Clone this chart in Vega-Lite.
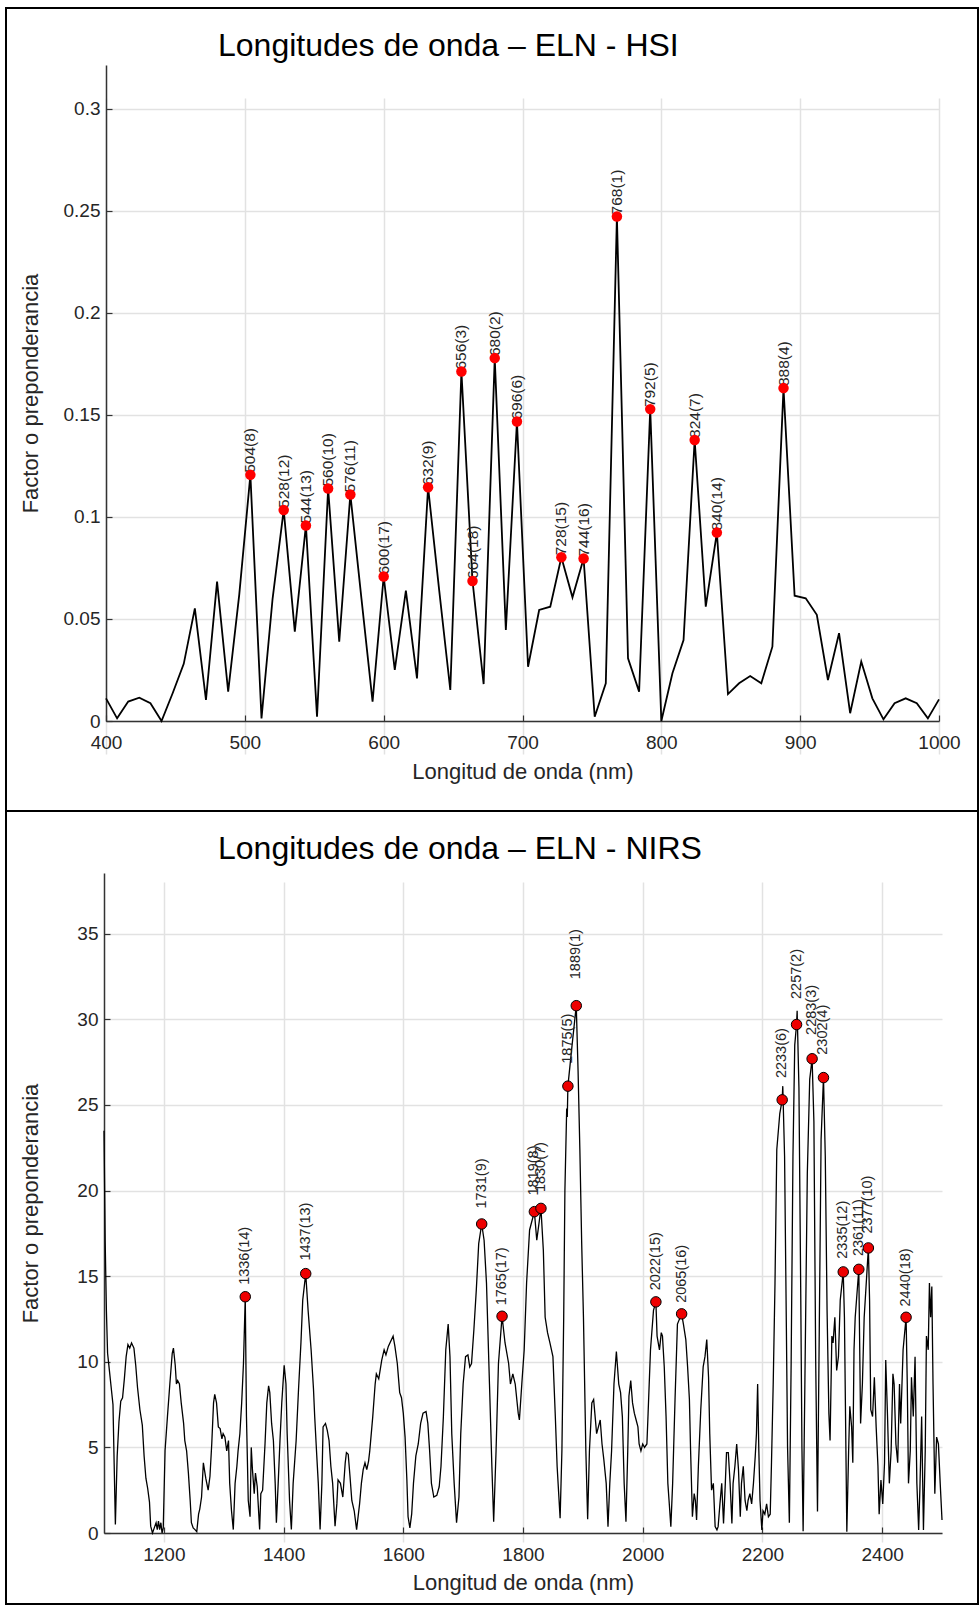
{
  "$schema": "https://vega.github.io/schema/vega-lite/v6.json",
  "padding": {"left": 5, "top": 7, "right": 0, "bottom": 0},
  "bounds": "flush",
  "spacing": 0,
  "config": {
    "font": "Liberation Sans",
    "view": {"stroke": "black", "strokeWidth": 2},
    "axis": {
      "labelFont": "Liberation Sans", "labelFontSize": 19, "labelColor": "#262626",
      "titleFont": "Liberation Sans", "titleFontSize": 22, "titleColor": "#262626", "titleFontWeight": "normal",
      "domainColor": "#333333", "domainWidth": 1.5, "tickColor": "#333333", "tickWidth": 1.2, "tickSize": -6,
      "gridColor": "#e2e2e2", "gridWidth": 1.5, "gridOpacity": 1, "labelFlush": false
    }
  },
  "datasets": {
    "hsi": [
      {"nm":400,"v":0.0111},{"nm":408,"v":0.0013},{"nm":416,"v":0.0095},{"nm":424,"v":0.0114},{"nm":432,"v":0.0087},
      {"nm":440,"v":0.0},{"nm":448,"v":0.0136},{"nm":456,"v":0.028},{"nm":464,"v":0.0552},{"nm":472,"v":0.0103},
      {"nm":480,"v":0.0683},{"nm":488,"v":0.0144},{"nm":496,"v":0.062},{"nm":504,"v":0.1206},{"nm":512,"v":0.0013},
      {"nm":520,"v":0.06},{"nm":528,"v":0.1034},{"nm":536,"v":0.0438},{"nm":544,"v":0.0958},{"nm":552,"v":0.0021},
      {"nm":560,"v":0.1139},{"nm":568,"v":0.0389},{"nm":576,"v":0.111},{"nm":584,"v":0.06},{"nm":592,"v":0.0095},
      {"nm":600,"v":0.0708},{"nm":608,"v":0.025},{"nm":616,"v":0.0639},{"nm":624,"v":0.0209},{"nm":632,"v":0.1145},
      {"nm":640,"v":0.064},{"nm":648,"v":0.0152},{"nm":656,"v":0.1712},{"nm":664,"v":0.0686},{"nm":672,"v":0.0181},
      {"nm":680,"v":0.1778},{"nm":688,"v":0.0446},{"nm":696,"v":0.1467},{"nm":704,"v":0.0266},{"nm":712,"v":0.0544},
      {"nm":720,"v":0.056},{"nm":728,"v":0.0802},{"nm":736,"v":0.0606},{"nm":744,"v":0.0796},{"nm":752,"v":0.0021},
      {"nm":760,"v":0.0185},{"nm":768,"v":0.2472},{"nm":776,"v":0.0307},{"nm":784,"v":0.0144},{"nm":792,"v":0.1528},
      {"nm":800,"v":0.0},{"nm":808,"v":0.0234},{"nm":816,"v":0.0397},{"nm":824,"v":0.1377},{"nm":832,"v":0.056},
      {"nm":840,"v":0.0923},{"nm":848,"v":0.0132},{"nm":856,"v":0.0185},{"nm":864,"v":0.022},{"nm":872,"v":0.0185},
      {"nm":880,"v":0.0364},{"nm":888,"v":0.1631},{"nm":896,"v":0.0614},{"nm":904,"v":0.0601},{"nm":912,"v":0.052},
      {"nm":920,"v":0.0201},{"nm":928,"v":0.043},{"nm":936,"v":0.0038},{"nm":944,"v":0.0291},{"nm":952,"v":0.0111},
      {"nm":960,"v":0.0008},{"nm":968,"v":0.0087},{"nm":976,"v":0.0111},{"nm":984,"v":0.0087},{"nm":992,"v":0.0013},
      {"nm":1000,"v":0.0106}
    ],
    "hsiPeaks": [
      {"nm":504,"v":0.1206,"label":"504(8)"},{"nm":528,"v":0.1034,"label":"528(12)"},{"nm":544,"v":0.0958,"label":"544(13)"},
      {"nm":560,"v":0.1139,"label":"560(10)"},{"nm":576,"v":0.111,"label":"576(11)"},{"nm":600,"v":0.0708,"label":"600(17)"},
      {"nm":632,"v":0.1145,"label":"632(9)"},{"nm":656,"v":0.1712,"label":"656(3)"},{"nm":664,"v":0.0686,"label":"664(18)"},
      {"nm":680,"v":0.1778,"label":"680(2)"},{"nm":696,"v":0.1467,"label":"696(6)"},{"nm":728,"v":0.0802,"label":"728(15)"},
      {"nm":744,"v":0.0796,"label":"744(16)"},{"nm":768,"v":0.2472,"label":"768(1)"},{"nm":792,"v":0.1528,"label":"792(5)"},
      {"nm":824,"v":0.1377,"label":"824(7)"},{"nm":840,"v":0.0923,"label":"840(14)"},{"nm":888,"v":0.1631,"label":"888(4)"}
    ],
    "nirs": [
      {"nm":1100,"v":23.5},{"nm":1102,"v":17},{"nm":1104,"v":13},{"nm":1106,"v":10.5},{"nm":1109,"v":9.5},{"nm":1112,"v":8.5},
      {"nm":1115,"v":7.5},{"nm":1117,"v":4},{"nm":1119,"v":0.5},{"nm":1122,"v":4.5},{"nm":1125,"v":6.5},{"nm":1128,"v":7.7},
      {"nm":1131,"v":7.9},{"nm":1134,"v":9.0},{"nm":1137,"v":10.3},{"nm":1140,"v":11.0},{"nm":1143,"v":10.8},{"nm":1146,"v":11.1},
      {"nm":1150,"v":10.8},{"nm":1153,"v":9.8},{"nm":1156,"v":8.5},{"nm":1160,"v":7.2},{"nm":1164,"v":6.3},{"nm":1167,"v":4.5},
      {"nm":1170,"v":3.2},{"nm":1173,"v":2.6},{"nm":1176,"v":1.8},{"nm":1178,"v":0.4},{"nm":1181,"v":0.0},{"nm":1184,"v":0.3},
      {"nm":1187,"v":0.6},{"nm":1189,"v":0.2},{"nm":1191,"v":0.7},{"nm":1193,"v":0.2},{"nm":1195,"v":0.6},{"nm":1197,"v":0.0},
      {"nm":1199,"v":0.3},{"nm":1202,"v":4.8},{"nm":1206,"v":6.8},{"nm":1210,"v":8.7},{"nm":1214,"v":10.5},{"nm":1216,"v":10.8},
      {"nm":1219,"v":9.8},{"nm":1221,"v":8.7},{"nm":1223,"v":8.9},{"nm":1226,"v":8.7},{"nm":1229,"v":7.6},{"nm":1233,"v":6.4},
      {"nm":1235,"v":5.4},{"nm":1238,"v":4.8},{"nm":1241,"v":3.5},{"nm":1244,"v":1.9},{"nm":1246,"v":0.6},{"nm":1249,"v":0.3},
      {"nm":1252,"v":0.2},{"nm":1255,"v":0.08},{"nm":1258,"v":1.1},{"nm":1260,"v":1.4},{"nm":1263,"v":2.1},{"nm":1266,"v":4.1},
      {"nm":1270,"v":3.2},{"nm":1274,"v":2.5},{"nm":1277,"v":3.3},{"nm":1280,"v":5.2},{"nm":1283,"v":7.6},{"nm":1285,"v":8.1},
      {"nm":1288,"v":7.6},{"nm":1291,"v":6.2},{"nm":1294,"v":6.1},{"nm":1297,"v":5.5},{"nm":1299,"v":5.8},{"nm":1302,"v":5.6},
      {"nm":1305,"v":4.8},{"nm":1308,"v":5.4},{"nm":1310,"v":2.9},{"nm":1313,"v":1.3},{"nm":1316,"v":0.2},{"nm":1319,"v":2.9},
      {"nm":1322,"v":3.9},{"nm":1324,"v":4.8},{"nm":1327,"v":5.8},{"nm":1330,"v":7.6},{"nm":1333,"v":9.9},{"nm":1336,"v":13.8},
      {"nm":1338,"v":6.8},{"nm":1341,"v":1.9},{"nm":1344,"v":0.95},{"nm":1346,"v":5.0},{"nm":1348,"v":3.7},{"nm":1351,"v":2.3},
      {"nm":1353,"v":3.5},{"nm":1356,"v":2.7},{"nm":1360,"v":0.2},{"nm":1362,"v":2.3},{"nm":1365,"v":2.5},{"nm":1369,"v":5.2},
      {"nm":1372,"v":7.6},{"nm":1375,"v":8.6},{"nm":1377,"v":8.2},{"nm":1380,"v":6.4},{"nm":1383,"v":5.4},{"nm":1386,"v":2.9},
      {"nm":1388,"v":0.6},{"nm":1391,"v":2.9},{"nm":1394,"v":5.4},{"nm":1397,"v":7.6},{"nm":1401,"v":9.8},{"nm":1404,"v":8.7},
      {"nm":1406,"v":5.8},{"nm":1410,"v":1.9},{"nm":1413,"v":0.2},{"nm":1416,"v":2.9},{"nm":1421,"v":5.4},{"nm":1425,"v":8.4},
      {"nm":1429,"v":11.1},{"nm":1432,"v":13.6},{"nm":1437,"v":15.15},{"nm":1441,"v":13.0},{"nm":1446,"v":10.7},{"nm":1450,"v":8.4},
      {"nm":1452,"v":6.8},{"nm":1455,"v":4.8},{"nm":1458,"v":2.9},{"nm":1461,"v":0.2},{"nm":1464,"v":2.9},{"nm":1466,"v":6.2},
      {"nm":1470,"v":6.4},{"nm":1473,"v":6.0},{"nm":1476,"v":5.4},{"nm":1479,"v":3.9},{"nm":1482,"v":2.9},{"nm":1486,"v":0.4},
      {"nm":1489,"v":1.7},{"nm":1491,"v":3.1},{"nm":1495,"v":2.9},{"nm":1499,"v":2.1},{"nm":1503,"v":4.1},{"nm":1505,"v":4.7},
      {"nm":1508,"v":4.6},{"nm":1511,"v":3.3},{"nm":1514,"v":1.9},{"nm":1518,"v":1.3},{"nm":1522,"v":0.2},{"nm":1527,"v":1.7},
      {"nm":1530,"v":2.9},{"nm":1533,"v":3.7},{"nm":1536,"v":4.1},{"nm":1539,"v":3.7},{"nm":1542,"v":4.2},{"nm":1544,"v":4.8},
      {"nm":1549,"v":6.8},{"nm":1553,"v":8.7},{"nm":1555,"v":9.3},{"nm":1559,"v":9.0},{"nm":1564,"v":10.1},{"nm":1568,"v":10.7},
      {"nm":1571,"v":10.4},{"nm":1575,"v":10.9},{"nm":1579,"v":11.2},{"nm":1583,"v":11.5},{"nm":1586,"v":10.9},{"nm":1590,"v":9.9},
      {"nm":1594,"v":8.2},{"nm":1597,"v":7.9},{"nm":1600,"v":7.0},{"nm":1603,"v":5.6},{"nm":1606,"v":3.1},{"nm":1608,"v":0.95},
      {"nm":1611,"v":0.3},{"nm":1614,"v":1.1},{"nm":1617,"v":2.9},{"nm":1621,"v":4.5},{"nm":1625,"v":5.2},{"nm":1629,"v":6.4},
      {"nm":1633,"v":7.0},{"nm":1638,"v":7.1},{"nm":1641,"v":6.4},{"nm":1644,"v":4.8},{"nm":1647,"v":2.9},{"nm":1651,"v":2.1},
      {"nm":1656,"v":2.2},{"nm":1660,"v":2.7},{"nm":1663,"v":3.9},{"nm":1667,"v":6.8},{"nm":1671,"v":10.7},{"nm":1675,"v":12.2},
      {"nm":1678,"v":10.3},{"nm":1681,"v":5.8},{"nm":1685,"v":2.9},{"nm":1689,"v":0.6},{"nm":1693,"v":2.1},{"nm":1696,"v":5.8},
      {"nm":1700,"v":8.7},{"nm":1704,"v":10.3},{"nm":1708,"v":10.4},{"nm":1711,"v":9.7},{"nm":1714,"v":9.9},{"nm":1718,"v":11.9},
      {"nm":1722,"v":14.2},{"nm":1726,"v":16.9},{"nm":1731,"v":18.05},{"nm":1735,"v":17.1},{"nm":1739,"v":14.6},{"nm":1744,"v":8.7},
      {"nm":1748,"v":3.9},{"nm":1751,"v":0.66},{"nm":1755,"v":4.8},{"nm":1759,"v":9.9},{"nm":1765,"v":12.66},{"nm":1770,"v":11.1},
      {"nm":1776,"v":9.9},{"nm":1779,"v":8.7},{"nm":1783,"v":9.3},{"nm":1787,"v":8.7},{"nm":1792,"v":7.0},{"nm":1794,"v":6.6},
      {"nm":1798,"v":8.7},{"nm":1802,"v":10.7},{"nm":1806,"v":14.6},{"nm":1811,"v":17.7},{"nm":1819,"v":18.77},{"nm":1823,"v":17.1},
      {"nm":1830,"v":18.96},{"nm":1834,"v":16.5},{"nm":1837,"v":12.6},{"nm":1841,"v":11.7},{"nm":1845,"v":11.1},{"nm":1850,"v":10.3},
      {"nm":1854,"v":6.8},{"nm":1857,"v":3.9},{"nm":1862,"v":0.86},{"nm":1865,"v":4.8},{"nm":1868,"v":12.6},{"nm":1870,"v":20},
      {"nm":1873,"v":24.8},{"nm":1874,"v":24.3},{"nm":1875,"v":26.1},{"nm":1882,"v":28.5},{"nm":1889,"v":30.8},{"nm":1892,"v":27},
      {"nm":1895,"v":22.4},{"nm":1898,"v":17},{"nm":1901,"v":12.6},{"nm":1905,"v":4.8},{"nm":1908,"v":0.8},{"nm":1911,"v":4.8},
      {"nm":1915,"v":7.6},{"nm":1918,"v":7.8},{"nm":1920,"v":7.0},{"nm":1923,"v":5.8},{"nm":1926,"v":6.2},{"nm":1929,"v":6.6},
      {"nm":1932,"v":5.2},{"nm":1935,"v":4.3},{"nm":1939,"v":2.9},{"nm":1942,"v":0.37},{"nm":1945,"v":2.9},{"nm":1948,"v":4.8},
      {"nm":1952,"v":8.7},{"nm":1956,"v":10.6},{"nm":1960,"v":8.7},{"nm":1963,"v":8.2},{"nm":1966,"v":6.8},{"nm":1969,"v":2.9},
      {"nm":1972,"v":0.66},{"nm":1975,"v":4.8},{"nm":1977,"v":8.0},{"nm":1980,"v":8.9},{"nm":1983,"v":7.6},{"nm":1986,"v":7.0},
      {"nm":1989,"v":6.6},{"nm":1992,"v":6.2},{"nm":1994,"v":5.2},{"nm":1997,"v":4.8},{"nm":2000,"v":5.2},{"nm":2003,"v":5.0},
      {"nm":2007,"v":5.2},{"nm":2009,"v":7.0},{"nm":2013,"v":10.7},{"nm":2018,"v":13.0},{"nm":2022,"v":13.5},{"nm":2024,"v":11.5},
      {"nm":2028,"v":10.7},{"nm":2031,"v":11.7},{"nm":2033,"v":11.5},{"nm":2036,"v":9.7},{"nm":2039,"v":6.8},{"nm":2042,"v":2.9},
      {"nm":2044,"v":1.9},{"nm":2047,"v":0.37},{"nm":2050,"v":2.9},{"nm":2054,"v":7.8},{"nm":2058,"v":12.2},{"nm":2065,"v":12.8},
      {"nm":2068,"v":12.2},{"nm":2072,"v":11.3},{"nm":2075,"v":9.7},{"nm":2078,"v":7.8},{"nm":2080,"v":4.8},{"nm":2083,"v":0.95},
      {"nm":2086,"v":2.3},{"nm":2088,"v":1.9},{"nm":2090,"v":0.76},{"nm":2093,"v":3.9},{"nm":2097,"v":7.2},{"nm":2101,"v":9.7},
      {"nm":2104,"v":10.3},{"nm":2107,"v":11.3},{"nm":2110,"v":9.1},{"nm":2112,"v":5.8},{"nm":2115,"v":2.5},{"nm":2118,"v":2.9},
      {"nm":2121,"v":0.37},{"nm":2124,"v":0.18},{"nm":2126,"v":0.37},{"nm":2129,"v":1.7},{"nm":2132,"v":2.9},{"nm":2135,"v":0.56},
      {"nm":2138,"v":2.9},{"nm":2140,"v":4.7},{"nm":2143,"v":4.7},{"nm":2146,"v":2.9},{"nm":2149,"v":0.56},{"nm":2151,"v":2.9},
      {"nm":2154,"v":3.9},{"nm":2157,"v":5.2},{"nm":2160,"v":3.7},{"nm":2163,"v":0.95},{"nm":2165,"v":2.9},{"nm":2168,"v":3.9},
      {"nm":2171,"v":1.9},{"nm":2174,"v":1.3},{"nm":2176,"v":1.9},{"nm":2179,"v":2.3},{"nm":2182,"v":1.7},{"nm":2185,"v":2.9},
      {"nm":2188,"v":4.5},{"nm":2190,"v":5.8},{"nm":2192,"v":8.7},{"nm":2194,"v":4.8},{"nm":2196,"v":1.9},{"nm":2199,"v":0.18},
      {"nm":2201,"v":1.3},{"nm":2204,"v":1.1},{"nm":2207,"v":1.7},{"nm":2210,"v":0.95},{"nm":2213,"v":1.1},{"nm":2215,"v":3.9},
      {"nm":2218,"v":8.7},{"nm":2221,"v":14.6},{"nm":2224,"v":22.4},{"nm":2229,"v":24.5},{"nm":2233,"v":25.3},{"nm":2234,"v":26.1},
      {"nm":2237,"v":22},{"nm":2240,"v":12},{"nm":2242,"v":5},{"nm":2245,"v":0.6},{"nm":2248,"v":10},{"nm":2251,"v":22},
      {"nm":2254,"v":28.5},{"nm":2257,"v":29.7},{"nm":2258,"v":30.5},{"nm":2261,"v":26},{"nm":2264,"v":14},{"nm":2266,"v":5},
      {"nm":2268,"v":0.1},{"nm":2271,"v":9},{"nm":2275,"v":21},{"nm":2279,"v":26.5},{"nm":2283,"v":27.7},{"nm":2286,"v":24},
      {"nm":2289,"v":10},{"nm":2292,"v":1.25},{"nm":2295,"v":12},{"nm":2298,"v":23},{"nm":2302,"v":26.6},{"nm":2305,"v":22},
      {"nm":2308,"v":13},{"nm":2311,"v":7},{"nm":2313,"v":5.4},{"nm":2316,"v":11.5},{"nm":2318,"v":11.1},{"nm":2321,"v":12.6},
      {"nm":2324,"v":9.5},{"nm":2327,"v":10.3},{"nm":2330,"v":13.6},{"nm":2335,"v":15.25},{"nm":2337,"v":12.6},{"nm":2341,"v":0.08},
      {"nm":2344,"v":4.8},{"nm":2346,"v":7.4},{"nm":2349,"v":6.2},{"nm":2351,"v":4.1},{"nm":2353,"v":10.7},{"nm":2355,"v":12.6},
      {"nm":2361,"v":15.4},{"nm":2364,"v":6.4},{"nm":2367,"v":8.7},{"nm":2370,"v":12.6},{"nm":2377,"v":16.65},{"nm":2379,"v":13.6},
      {"nm":2381,"v":7.2},{"nm":2384,"v":6.8},{"nm":2387,"v":9.1},{"nm":2390,"v":6.2},{"nm":2393,"v":3.9},{"nm":2395,"v":1.1},
      {"nm":2398,"v":3.1},{"nm":2401,"v":1.7},{"nm":2404,"v":4.1},{"nm":2406,"v":10.1},{"nm":2409,"v":6.8},{"nm":2412,"v":2.9},
      {"nm":2415,"v":4.8},{"nm":2418,"v":9.3},{"nm":2420,"v":8.7},{"nm":2423,"v":5.2},{"nm":2426,"v":4.1},{"nm":2429,"v":8.7},
      {"nm":2431,"v":6.4},{"nm":2435,"v":10.7},{"nm":2440,"v":12.6},{"nm":2442,"v":8.7},{"nm":2444,"v":2.9},{"nm":2447,"v":4.8},
      {"nm":2449,"v":9.1},{"nm":2452,"v":6.8},{"nm":2455,"v":10.3},{"nm":2458,"v":2.9},{"nm":2461,"v":0.18},{"nm":2463,"v":2.5},
      {"nm":2466,"v":6.8},{"nm":2469,"v":0.18},{"nm":2472,"v":4.8},{"nm":2474,"v":11.5},{"nm":2477,"v":10.7},{"nm":2479,"v":14.6},
      {"nm":2481,"v":12.6},{"nm":2483,"v":14.4},{"nm":2485,"v":8.7},{"nm":2488,"v":2.3},{"nm":2491,"v":5.6},{"nm":2494,"v":5.2},
      {"nm":2497,"v":2.9},{"nm":2500,"v":0.76}
    ],
    "nirsPeaks": [
      {"nm":1336,"v":13.8,"label":"1336(14)"},{"nm":1437,"v":15.15,"label":"1437(13)"},{"nm":1731,"v":18.05,"label":"1731(9)"},
      {"nm":1765,"v":12.66,"label":"1765(17)"},{"nm":1819,"v":18.77,"label":"1819(8)"},{"nm":1830,"v":18.96,"label":"1830(7)"},
      {"nm":1875,"v":26.1,"label":"1875(5)"},{"nm":1889,"v":30.8,"label":"1889(1)"},{"nm":2022,"v":13.5,"label":"2022(15)"},
      {"nm":2065,"v":12.8,"label":"2065(16)"},{"nm":2233,"v":25.3,"label":"2233(6)"},{"nm":2257,"v":29.7,"label":"2257(2)"},
      {"nm":2283,"v":27.7,"label":"2283(3)"},{"nm":2302,"v":26.6,"label":"2302(4)"},{"nm":2335,"v":15.25,"label":"2335(12)"},
      {"nm":2361,"v":15.4,"label":"2361(11)"},{"nm":2377,"v":16.65,"label":"2377(10)"},{"nm":2440,"v":12.6,"label":"2440(18)"}
    ]
  },
  "vconcat": [
    {
      "width": 972,
      "height": 803,
      "title": {"text": "Longitudes de onda – ELN - HSI", "anchor": "start", "frame": "group", "offset": -80, "baseline": "alphabetic", "dx": 212, "fontSize": 32, "fontWeight": "normal", "font": "Liberation Sans", "color": "black"},
      "encoding": {
        "x": {"field": "nm", "type": "quantitative",
          "scale": {"domain": [400, 1000], "range": [100, 933], "nice": false, "zero": false},
          "axis": {"title": "Longitud de onda (nm)", "values": [400,500,600,700,800,900,1000], "format": "d", "offset": -90, "labelPadding": 18,
                   "titleX": 516.5, "titleY": 57, "titleBaseline": "alphabetic"}},
        "y": {"field": "v", "type": "quantitative",
          "scale": {"domain": [0, 0.3214], "range": [713, 57], "nice": false, "zero": false},
          "axis": {"title": "Factor o preponderancia", "values": [0,0.05,0.1,0.15,0.2,0.25,0.3], "format": "~g", "offset": -100, "labelPadding": 12,
                   "titleX": -76, "titleY": 385, "titleBaseline": "middle", "titleAngle": 270}}
      },
      "layer": [
        {"data": {"name": "hsi"}, "mark": {"type": "line", "color": "black", "strokeWidth": 1.8}},
        {"data": {"name": "hsiPeaks"}, "mark": {"type": "text", "angle": 270, "align": "left", "baseline": "middle", "dx": 2, "fontSize": 15.5, "color": "#262626"},
         "encoding": {"text": {"field": "label"}}},
        {"data": {"name": "hsiPeaks"}, "mark": {"type": "circle", "color": "#ff0000", "size": 110, "opacity": 1}}
      ]
    },
    {
      "width": 972,
      "height": 793,
      "title": {"text": "Longitudes de onda – ELN - NIRS", "anchor": "start", "frame": "group", "offset": -80, "baseline": "alphabetic", "dx": 212, "fontSize": 32, "fontWeight": "normal", "font": "Liberation Sans", "color": "black"},
      "encoding": {
        "x": {"field": "nm", "type": "quantitative",
          "scale": {"domain": [1100, 2500], "range": [98, 936], "nice": false, "zero": false},
          "axis": {"title": "Longitud de onda (nm)", "values": [1200,1400,1600,1800,2000,2200,2400], "format": "d", "offset": -71, "labelPadding": 18,
                   "titleX": 517, "titleY": 56, "titleBaseline": "alphabetic"}},
        "y": {"field": "v", "type": "quantitative",
          "scale": {"domain": [0, 38.55], "range": [722, 62], "nice": false, "zero": false},
          "axis": {"title": "Factor o preponderancia", "values": [0,5,10,15,20,25,30,35], "offset": -98, "labelPadding": 12,
                   "titleX": -74, "titleY": 392, "titleBaseline": "middle", "titleAngle": 270}}
      },
      "layer": [
        {"data": {"name": "nirs"}, "mark": {"type": "line", "color": "black", "strokeWidth": 1.3}},
        {"data": {"name": "nirsPeaks"}, "mark": {"type": "text", "angle": 270, "align": "left", "baseline": "middle", "dx": {"expr": "datum.v * 0.86"}, "fontSize": 14.5, "color": "#262626"},
         "encoding": {"text": {"field": "label"}}},
        {"data": {"name": "nirsPeaks"}, "mark": {"type": "circle", "color": "#ee0000", "stroke": "black", "strokeWidth": 1, "size": 110, "opacity": 1}}
      ]
    }
  ]
}
